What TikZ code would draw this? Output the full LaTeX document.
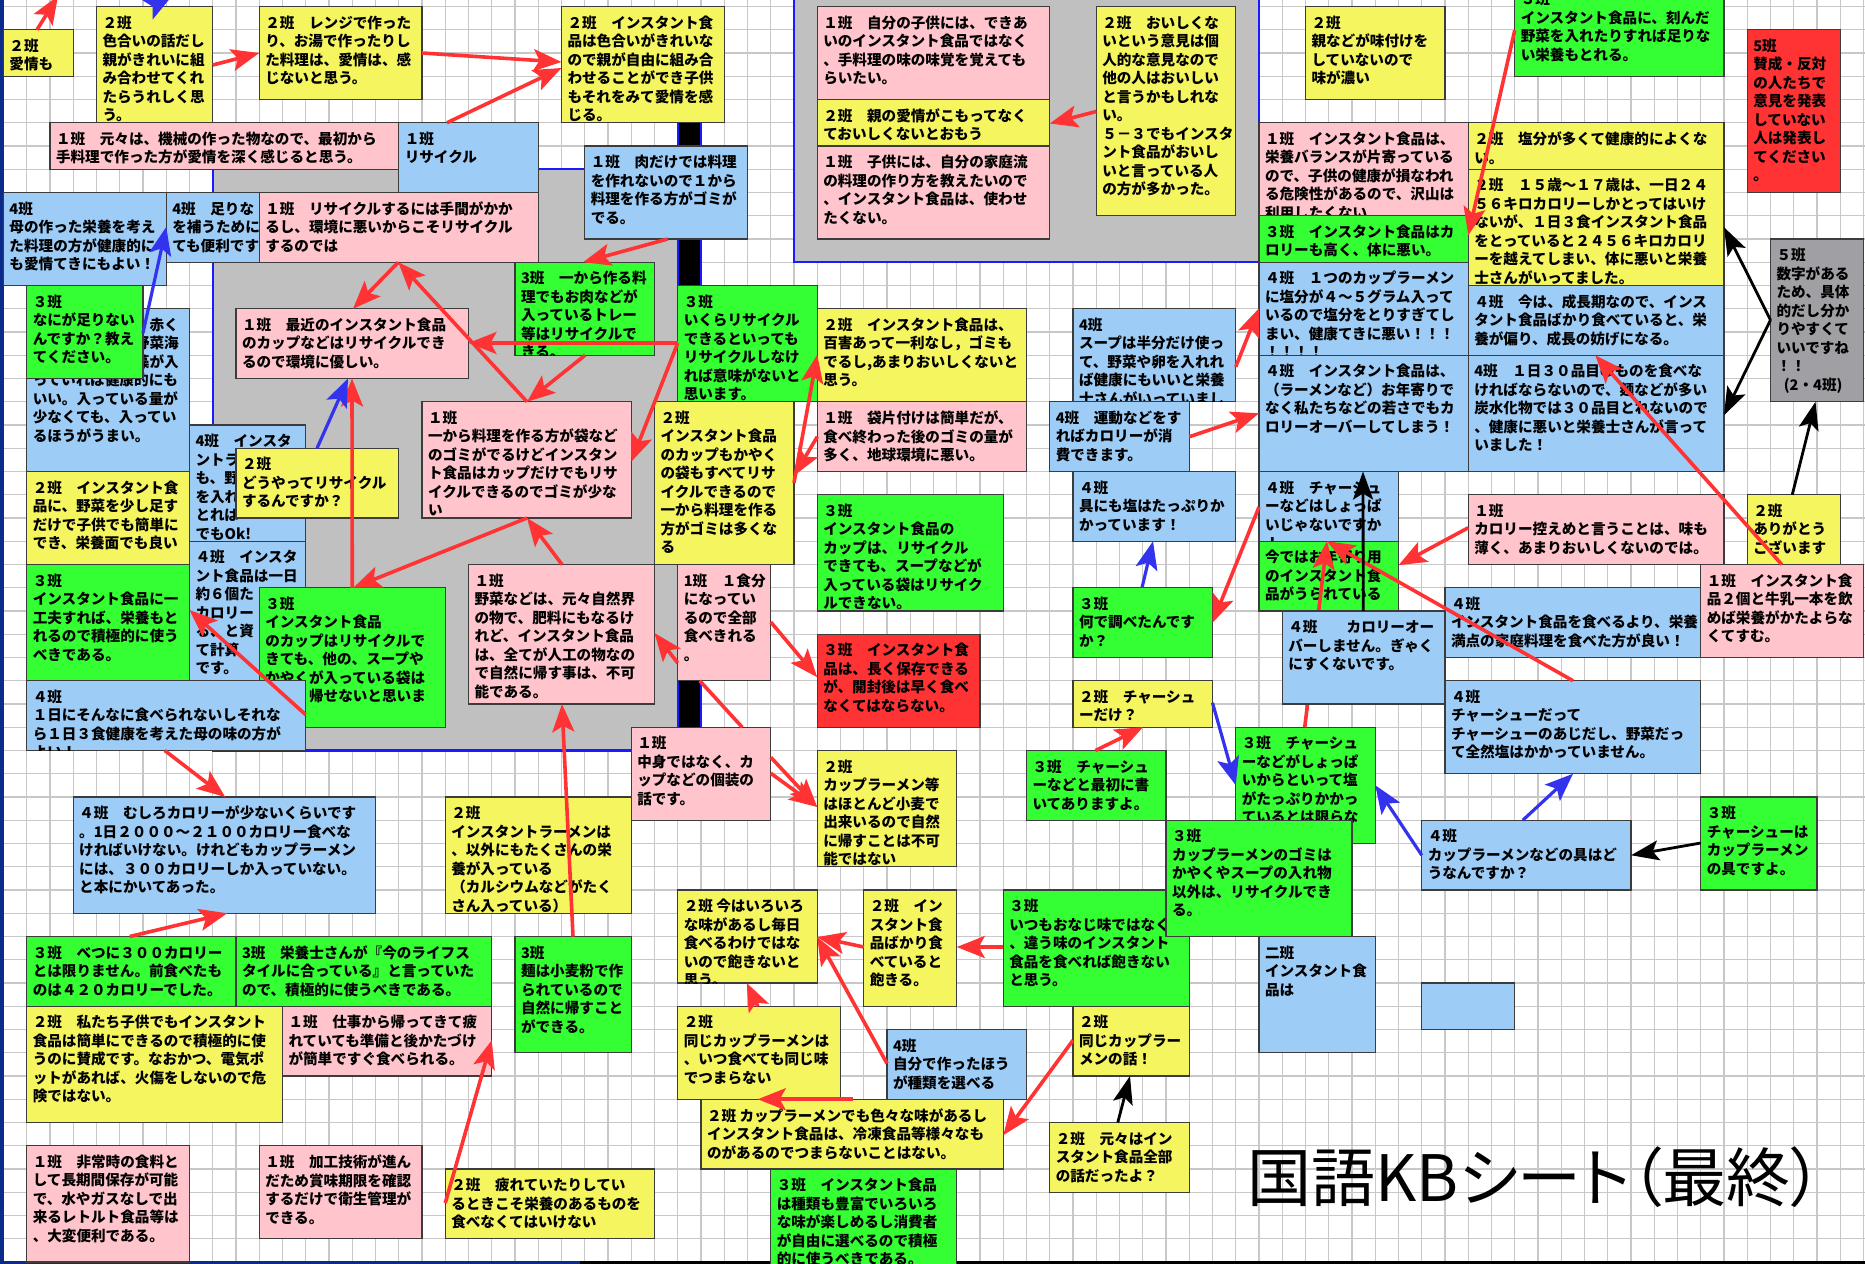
\documentclass[tikz,border=0pt]{standalone}
\usepackage{fontspec}
\newfontfamily\jp{Noto Sans CJK JP}
\newfontfamily\jptitle{Noto Sans CJK JP}[RawFeature=+palt]
\usetikzlibrary{arrows.meta}
\definecolor{kbY}{HTML}{F5F560}
\definecolor{kbP}{HTML}{FFC4CC}
\definecolor{kbB}{HTML}{9DCDF7}
\definecolor{kbG}{HTML}{33FF33}
\definecolor{kbR}{HTML}{FF3333}
\definecolor{kbK}{HTML}{A0A0A4}
\definecolor{kbedge}{HTML}{3C3C3C}
\definecolor{regiongray}{HTML}{C0C0C0}
\definecolor{regionblue}{HTML}{1A1AFF}
\definecolor{arrred}{HTML}{FF3333}
\definecolor{arrblue}{HTML}{3333EE}
\definecolor{gridgray}{HTML}{C8C8C8}
\definecolor{navyedge}{HTML}{0B2A8A}
\newcommand\kbfont{\jp\bfseries\fontsize{7.3}{9.25}\selectfont}
\newcommand\pc[1]{\hbox to #1em{}}
\tikzset{
  kbox/.style={draw=kbedge, line width=0.7pt, anchor=north west, inner sep=0pt, outer sep=0pt, rectangle},
  ktext/.style={anchor=north west, inner sep=0pt, outer sep=0pt, align=left, font=\kbfont, text=black},
  ra/.style={draw=arrred, line width=1.8pt, -{Stealth[length=14pt,width=11pt,inset=3pt]}},
  rl/.style={draw=arrred, line width=1.8pt},
  ba/.style={draw=arrblue, line width=1.6pt, -{Stealth[length=14pt,width=11pt,inset=3pt]}},
  ka/.style={draw=black, line width=1.4pt, -{Stealth[length=14pt,width=10pt,inset=3pt]}},
  gridline/.style={draw=gridgray, line width=0.6pt}
}
% name, colour, grid i, grid j, grid width, grid height, text
\newcommand\kb[7]{%
  \node[kbox, fill=#2, minimum width={23.25*#5*0.5pt}, minimum height={23.25*#6*0.5pt}] (#1) at ({3.5+23.25*#3},{6.5+23.25*#4}) {};
  \begin{scope}
    \clip (#1.south west) rectangle (#1.north east);
    \node[ktext] at ([shift={(6,9)}]#1.north west) {#7};
  \end{scope}}
\begin{document}
\begin{tikzpicture}[x=0.5pt,y=-0.5pt]
\useasboundingbox (0,0) rectangle (1865,1264);
\fill[white] (0,0) rectangle (1865,1264);
\foreach \k in {0,...,80} \draw[gridline] ({3.5+23.25*\k},0) -- ({3.5+23.25*\k},1264);
\foreach \k in {0,...,54} \draw[gridline] (0,{6.5+23.25*\k}) -- (1865,{6.5+23.25*\k});
% grouped regions
\fill[regiongray] (212.75,169.25) rectangle (677.75,750.5);
\draw[regionblue, line width=1.2pt] (212.75,169.25) rectangle (677.75,750.5);
\fill[black] (677.75,122.75) rectangle (701,727.25);
\draw[regionblue, line width=1.2pt] (677.75,122.75) -- (677.75,727.25) (701,122.75) -- (701,727.25);
\fill[regiongray] (794,-5) rectangle (1259,262.25);
\draw[regionblue, line width=1.2pt] (794,-5) -- (794,262.25) -- (1259,262.25) -- (1259,-5);
% frame strips
\fill[navyedge] (0,0) rectangle (4,1264);
\fill[navyedge] (0,1261) rectangle (580,1264);
\fill[black] (580,1261) rectangle (1865,1264);

% ---------- top left ----------
\kb{b1}{kbY}{0}{1}{3}{2}{２班\\愛情も}
\kb{b2}{kbY}{4}{0}{5}{5}{２班\\色合いの話だし\\親がきれいに組\\み合わせてくれ\\たらうれしく思\\う。}
\kb{b3}{kbY}{11}{0}{7}{4}{２班　レンジで作った\\り、お湯で作ったりし\\た料理は、愛情は、感\\じないと思う。}
\kb{b4}{kbY}{24}{0}{7}{5}{２班　インスタント食\\品は色合いがきれいな\\ので親が自由に組み合\\わせることができ子供\\もそれをみて愛情を感\\じる。}
\kb{b5}{kbP}{2}{5}{15}{2}{１班　元々は、機械の作った物なので、最初から\\手料理で作った方が愛情を深く感じると思う。}
\kb{b6}{kbB}{17}{5}{6}{3}{１班\\リサイクル}
\kb{b13}{kbB}{25}{6}{7}{4}{１班　肉だけでは料理\\を作れないので１から\\料理を作る方がゴミが\\でる。}
\kb{b7}{kbB}{0}{8}{7}{4}{4班\\母の作った栄養を考え\\た料理の方が健康的に\\も愛情てきにもよい！}
\kb{b8}{kbB}{7}{8}{4}{3}{4班　足りな\\を補うために\\ても便利です}
\kb{b9}{kbP}{11}{8}{12}{3}{１班　リサイクルするには手間がかか\\るし、環境に悪いからこそリサイクル\\するのでは}
\kb{b14}{kbG}{22}{11}{6}{4}{3班　一から作る料\\理でもお肉などが\\入っているトレー\\等はリサイクルで\\きる。}
\kb{b11}{kbB}{1}{13}{7}{7}{\pc{8}赤く\\\pc{7}野菜海\\\pc{7}藻が入\\っていれば健康的にも\\いい。入っている量が\\少なくても、入ってい\\るほうがうまい。}
\kb{b10}{kbG}{1}{12}{5}{4}{３班\\なにが足りない\\んですか？教え\\てください。}
\kb{b12}{kbP}{10}{13}{10}{3}{１班　最近のインスタント食品\\のカップなどはリサイクルでき\\るので環境に優しい。}
\kb{b15}{kbG}{29}{12}{6}{5}{３班\\いくらリサイクル\\できるといっても\\リサイクルしなけ\\れば意味がないと\\思います。}
\kb{p1}{kbP}{18}{17}{9}{5}{１班\\一から料理を作る方が袋など\\のゴミがでるけどインスタン\\ト食品はカップだけでもリサ\\イクルできるのでゴミが少な\\い}
\kb{b79}{kbB}{8}{18}{5}{5}{4班　インスタ\\ントラ\\も、野\\を入れ\\とれば\\でもOk!}
\kb{b80}{kbY}{10}{19}{7}{3}{２班\\どうやってリサイクル\\するんですか？}
\kb{b77}{kbY}{1}{20}{7}{4}{２班　インスタント食\\品に、野菜を少し足す\\だけで子供でも簡単に\\でき、栄養面でも良い}
\kb{b81}{kbB}{8}{23}{5}{6}{４班　インスタ\\ント食品は一日\\約６個た\\カロリー\\る、と資\\て計算\\です。}
\kb{b78}{kbG}{1}{24}{7}{5}{３班\\インスタント食品に一\\工夫すれば、栄養もと\\れるので積極的に使う\\べきである。}
\kb{g}{kbG}{11}{25}{8}{6}{３班\\インスタント食品\\のカップはリサイクルで\\きても、他の、スープや\\かやくが入っている袋は\\\pc{3}帰せないと思いま}
\kb{b71}{kbB}{1}{29}{12}{3}{４班\\１日にそんなに食べられないしそれな\\ら１日３食健康を考えた母の味の方が\\よい！}
\kb{y2}{kbY}{28}{17}{6}{7}{２班\\インスタント食品\\のカップもかやく\\の袋もすべてリサ\\イクルできるので\\一から料理を作る\\方がゴミは多くな\\る}
\kb{p2}{kbP}{20}{24}{8}{6}{１班\\野菜などは、元々自然界\\の物で、肥料にもなるけ\\れど、インスタント食品\\は、全てが人工の物なの\\で自然に帰す事は、不可\\能である。}
\kb{p3}{kbP}{29}{24}{4}{5}{1班　１食分\\になってい\\るので全部\\食べきれる\\。}
\kb{p4}{kbP}{27}{31}{6}{4}{１班\\中身ではなく、カ\\ップなどの個装の\\話です。}

% ---------- top right ----------
\kb{b16}{kbP}{35}{0}{10}{4}{１班　自分の子供には、できあ\\いのインスタント食品ではなく\\、手料理の味の味覚を覚えても\\らいたい。}
\kb{b17}{kbY}{35}{4}{10}{2}{２班　親の愛情がこもってなく\\ておいしくないとおもう}
\kb{b18}{kbP}{35}{6}{10}{4}{１班　子供には、自分の家庭流\\の料理の作り方を教えたいので\\、インスタント食品は、使わせ\\たくない。}
\kb{b19}{kbY}{47}{0}{6}{9}{２班　おいしくな\\いという意見は個\\人的な意見なので\\他の人はおいしい\\と言うかもしれな\\い。\\５－３でもインスタ\\ント食品がおいし\\いと言っている人\\の方が多かった。}
\kb{b20}{kbY}{56}{0}{6}{4}{２班\\親などが味付けを\\していないので\\味が濃い}
\kb{b25}{kbG}{65}{-1}{9}{4}{３班\\インスタント食品に、刻んだ\\野菜を入れたりすれば足りな\\い栄養もとれる。}
\kb{b26}{kbR}{75}{1}{4}{7}{5班\\賛成・反対\\の人たちで\\意見を発表\\していない\\人は発表し\\てください\\。}
\kb{b21}{kbP}{54}{5}{9}{4}{１班　インスタント食品は、\\栄養バランスが片寄っている\\ので、子供の健康が損なわれ\\る危険性があるので、沢山は\\利用したくない}
\kb{b22}{kbG}{54}{9}{9}{2}{３班　インスタント食品はカ\\ロリーも高く、体に悪い。}
\kb{b23}{kbB}{54}{11}{9}{4}{４班　１つのカップラーメン\\に塩分が４～５グラム入って\\いるので塩分をとりすぎてし\\まい、健康てきに悪い！！！\\！！！！}
\kb{b24}{kbB}{54}{15}{9}{5}{４班　インスタント食品は、\\（ラーメンなど）お年寄りで\\なく私たちなどの若さでもカ\\ロリーオーバーしてしまう！}
\kb{b27}{kbY}{63}{5}{11}{2}{２班　塩分が多くて健康的によくな\\い。}
\kb{b28}{kbY}{63}{7}{11}{5}{２班　１５歳～１７歳は、一日２４\\５６キロカロリーしかとってはいけ\\ないが、１日３食インスタント食品\\をとっていると２４５６キロカロリ\\ーを越えてしまい、体に悪いと栄養\\士さんがいってました。}
\kb{b29}{kbB}{63}{12}{11}{3}{４班　今は、成長期なので、インス\\タント食品ばかり食べていると、栄\\養が偏り、成長の妨げになる。}
\kb{b30}{kbB}{63}{15}{11}{5}{4班　１日３０品目のものを食べな\\ければならないので、麺などが多い\\炭水化物では３０品目とれないので\\、健康に悪いと栄養士さんが言って\\いました！}
\kb{b31}{kbK}{76}{10}{4}{7}{５班\\数字がある\\ため、具体\\的だし分か\\りやすくて\\いいですね\\！！\\\pc{0.5}(2・4班)}

% ---------- middle ----------
\kb{b32}{kbY}{35}{13}{9}{4}{２班　インスタント食品は、\\百害あって一利なし，ゴミも\\でるし,あまりおいしくないと\\思う。}
\kb{b33}{kbP}{35}{17}{9}{3}{１班　袋片付けは簡単だが、\\食べ終わった後のゴミの量が\\多く、地球環境に悪い。}
\kb{b34}{kbB}{46}{13}{7}{4}{4班\\スープは半分だけ使っ\\て、野菜や卵を入れれ\\ば健康にもいいと栄養\\士さんがいっていまし}
\kb{b35}{kbB}{45}{17}{6}{3}{4班　運動などをす\\ればカロリーが消\\費できます。}
\kb{b36}{kbB}{46}{20}{7}{3}{４班\\具にも塩はたっぷりか\\かっています！}
\kb{b37}{kbG}{46}{25}{6}{3}{３班\\何で調べたんです\\か？}
\kb{b38}{kbB}{54}{20}{6}{3}{４班　チャーシュ\\ーなどはしょっぱ\\いじゃないですか\\！}
\kb{b39}{kbG}{54}{23}{6}{3}{今ではお年寄り用\\のインスタント食\\品がうられている\\。}
\kb{b44}{kbG}{53}{31}{6}{5}{３班　チャーシュ\\ーなどがしょっぱ\\いからといって塩\\がたっぷりかかっ\\ているとは限らな\\い}
\draw[ra] ([shift={(69,0)}]b44.north west) -- ([shift={(68,69.75)}]b38.north west);
\kb{b40}{kbB}{55}{26}{7}{4}{４班　　カロリーオー\\バーしません。ぎゃく\\にすくないです。}
\kb{b41}{kbP}{63}{21}{11}{3}{１班\\カロリー控えめと言うことは、味も\\薄く、あまりおいしくないのでは。}
\kb{b42}{kbY}{75}{21}{4}{3}{２班\\ありがとう\\ございます}
\kb{b45}{kbB}{62}{25}{11}{3}{４班\\インスタント食品を食べるより、栄養\\満点の家庭料理を食べた方が良い！}
\kb{b43}{kbP}{73}{24}{7}{4}{１班　インスタント食\\品２個と牛乳一本を飲\\めば栄養がかたよらな\\くてすむ。}
\kb{b46}{kbB}{62}{29}{11}{4}{４班\\チャーシューだって\\チャーシューのあじだし、野菜だっ\\て全然塩はかかっていません。}
\kb{b60}{kbG}{35}{21}{8}{5}{３班\\インスタント食品の\\カップは、リサイクル\\できても、スープなどが\\入っている袋はリサイク\\ルできない。}
\kb{b59}{kbR}{35}{27}{7}{4}{３班　インスタント食\\品は、長く保存できる\\が、開封後は早く食べ\\なくてはならない。}
\kb{b50}{kbY}{46}{29}{6}{2}{２班　チャーシュ\\ーだけ？}
\kb{b51}{kbG}{44}{32}{6}{3}{３班　チャーシュ\\ーなどと最初に書\\いてありますよ。}
\kb{b54}{kbG}{43}{38}{8}{5}{３班\\いつもおなじ味ではなく\\、違う味のインスタント\\食品を食べれば飽きない\\と思う。}
\kb{b52}{kbG}{50}{35}{8}{5}{３班\\カップラーメンのゴミは\\かやくやスープの入れ物\\以外は、リサイクルでき\\る。}
\kb{b47}{kbB}{61}{35}{9}{3}{４班\\カップラーメンなどの具はど\\うなんですか？}
\kb{b48}{kbG}{73}{34}{5}{4}{３班\\チャーシューは\\カップラーメン\\の具ですよ。}
\kb{b49}{kbB}{61}{42}{4}{2}{}
\kb{b61}{kbY}{35}{32}{6}{5}{２班\\カップラーメン等\\はほとんど小麦で\\出来いるので自然\\に帰すことは不可\\能ではない}
\kb{b53}{kbB}{54}{40}{5}{5}{二班\\インスタント食\\品は}
\kb{b55}{kbY}{46}{43}{5}{3}{２班\\同じカップラー\\メンの話！}
\kb{b56}{kbY}{45}{48}{6}{3}{２班　元々はイン\\スタント食品全部\\の話だったよ？}

% ---------- bottom ----------
\kb{b70}{kbB}{3}{34}{13}{5}{４班　むしろカロリーが少ないくらいです\\。1日２０００～２１００カロリー食べな\\ければいけない。けれどもカップラーメン\\には、３００カロリーしか入っていない。\\と本にかいてあった。}
\kb{b57}{kbY}{19}{34}{8}{5}{２班\\インスタントラーメンは\\、以外にもたくさんの栄\\養が入っている\\（カルシウムなどがたく\\さん入っている）}
\kb{b72}{kbG}{1}{40}{9}{3}{３班　べつに３００カロリー\\とは限りません。前食べたも\\のは４２０カロリーでした。}
\kb{b73}{kbG}{10}{40}{11}{3}{3班　栄養士さんが『今のライフス\\タイルに合っている』と言っていた\\ので、積極的に使うべきである。}
\kb{b58}{kbG}{22}{40}{5}{5}{3班\\麺は小麦粉で作\\られているので\\自然に帰すこと\\ができる。}
\kb{b74}{kbY}{1}{43}{11}{5}{２班　私たち子供でもインスタント\\食品は簡単にできるので積極的に使\\うのに賛成です。なおかつ、電気ポ\\ットがあれば、火傷をしないので危\\険ではない。}
\kb{b69}{kbP}{12}{43}{9}{3}{１班　仕事から帰ってきて疲\\れていても準備と後かたづけ\\が簡単ですぐ食べられる。}
\kb{b75}{kbP}{1}{49}{7}{5}{１班　非常時の食料と\\して長期間保存が可能\\で、水やガスなしで出\\来るレトルト食品等は\\、大変便利である。}
\kb{b76}{kbP}{11}{49}{7}{4}{１班　加工技術が進ん\\だため賞味期限を確認\\するだけで衛生管理が\\できる。}
\kb{b68}{kbY}{19}{50}{9}{3}{２班　疲れていたりしてい\\るときこそ栄養のあるものを\\食べなくてはいけない}
\kb{b62}{kbY}{29}{38}{6}{4}{２班 今はいろいろ\\な味があるし毎日\\食べるわけではな\\いので飽きないと\\思う。}
\kb{b63}{kbY}{37}{38}{4}{5}{２班　イン\\スタント食\\品ばかり食\\べていると\\飽きる。}
\kb{b64}{kbY}{29}{43}{7}{4}{２班\\同じカップラーメンは\\、いつ食べても同じ味\\でつまらない}
\kb{b65}{kbB}{38}{44}{6}{3}{4班\\自分で作ったほう\\が種類を選べる}
\kb{b66}{kbY}{30}{47}{13}{3}{２班 カップラーメンでも色々な味があるし\\インスタント食品は、冷凍食品等様々なも\\のがあるのでつまらないことはない。}
\kb{b67}{kbG}{33}{50}{8}{5}{３班　インスタント食品\\は種類も豊富でいろいろ\\な味が楽しめるし消費者\\が自由に選べるので積極\\的に使うべきである。}

% ---------- connectors ----------
\coordinate (t1) at (58,-4);
\coordinate (t2) at (172,-4);
\draw[ra] ([shift={(33.5,0)}]b1.north west) -- (t1);
\draw[ba] ([shift={(56.5,0)}]b2.north west) -- (t2);
\draw[ra] ([shift={(116.25,58.5)}]b2.north west) -- ([shift={(0,46.5)}]b3.north west);
\draw[ra] ([shift={(162.75,46.5)}]b3.north west) -- ([shift={(0,55.5)}]b4.north west);
\draw[ra] ([shift={(48.25,0)}]b6.north west) -- ([shift={(0,61.5)}]b4.north west);
\draw[ra] ([shift={(139,69.75)}]b9.north west) -- ([shift={(117,0)}]b12.north west);
\draw[ra] ([shift={(105,0)}]p1.north west) -- ([shift={(139,69.75)}]b9.north west);
\draw[ra] ([shift={(0,57.5)}]b15.north west) -- ([shift={(232.5,34.25)}]b12.north west);
\draw[ra] ([shift={(70,93)}]b14.north west) -- ([shift={(105,0)}]p1.north west);
\draw[ra] ([shift={(0,57.5)}]b15.north west) -- ([shift={(209.25,60)}]p1.north west);
\draw[ra] ([shift={(83,93)}]b13.north west) -- ([shift={(68,0)}]b14.north west);
\draw[ra] ([shift={(93,0)}]g.north west) -- ([shift={(116,69.75)}]b12.north west);
\draw[ba] ([shift={(81,0)}]b80.north west) -- ([shift={(112,69.75)}]b12.north west);
\draw[ba] ([shift={(116.25,47.5)}]b10.north west) -- ([shift={(162.75,34.5)}]b7.north west);
\draw[ra] ([shift={(105,116.25)}]p1.north west) -- ([shift={(94,0)}]g.north west);
\draw[ra] ([shift={(93.5,0)}]p2.north west) -- ([shift={(105,116.25)}]p1.north west);
\draw[ra] ([shift={(0,98.5)}]p3.north west) -- ([shift={(186,68.5)}]p2.north west);
\draw[ra] ([shift={(93,57.5)}]p3.north west) -- ([shift={(0,43)}]b59.north west);
\draw[rl] ([shift={(111,0)}]p4.north west) -- ([shift={(22,116.25)}]p3.north west);
\draw[ra] ([shift={(139.5,30)}]p4.north west) -- ([shift={(0,56.5)}]b61.north west);
\draw[ra] ([shift={(139.5,46)}]p4.north west) -- ([shift={(0,56.5)}]b61.north west);
\draw[ra] ([shift={(58,0)}]b58.north west) -- ([shift={(93.5,139.5)}]p2.north west);
\draw[ra] ([shift={(279,34)}]b71.north west) -- ([shift={(162.75,45.5)}]b78.north west);
\draw[ra] ([shift={(138,69.75)}]b71.north west) -- ([shift={(152,0)}]b70.north west);
\draw[ra] ([shift={(103,0)}]b72.north west) -- ([shift={(154,116.25)}]b70.north west);
\draw[ra] ([shift={(0,34)}]b68.north west) -- ([shift={(209.25,34)}]b69.north west);
\draw[ra] ([shift={(0,105)}]b19.north west) -- ([shift={(232.5,24)}]b17.north west);
\draw[ra] ([shift={(139.5,81)}]y2.north west) -- ([shift={(0,46)}]b32.north west);
\draw[ra] ([shift={(0,35)}]b33.north west) -- ([shift={(139.5,74)}]y2.north west);
\draw[ra] ([shift={(162.75,58)}]b34.north west) -- ([shift={(0,46)}]b23.north west);
\draw[ra] ([shift={(139.5,35)}]b35.north west) -- ([shift={(0,58)}]b24.north west);
\draw[ra] ([shift={(0,35.5)}]b38.north west) -- ([shift={(139.5,35)}]b37.north west);
\draw[ra] ([shift={(0,33)}]b41.north west) -- ([shift={(139.5,24)}]b39.north west);
\draw[ra] ([shift={(128,0)}]b46.north west) -- ([shift={(68,69.75)}]b38.north west);
\draw[ra] ([shift={(0,47)}]b25.north west) -- ([shift={(0,66)}]b28.north west);
\draw[ra] ([shift={(81,0)}]b43.north west) -- ([shift={(127,69.75)}]b29.north west);
\draw[ra] ([shift={(69,0)}]b51.north west) -- ([shift={(70,46.5)}]b50.north west);
\draw[ra] ([shift={(0,57)}]b54.north west) -- ([shift={(93,57)}]b63.north west);
\draw[ra] ([shift={(0,34)}]b55.north west) -- ([shift={(302.25,36)}]b66.north west);
\draw[ra] ([shift={(0,57)}]b63.north west) -- ([shift={(139.5,47)}]b62.north west);
\draw[ra] ([shift={(80,0)}]b64.north west) -- ([shift={(69,93)}]b62.north west);
\draw[ra] ([shift={(0,34)}]b65.north west) -- ([shift={(139.5,47)}]b62.north west);
\draw[ra] ([shift={(152,0)}]b66.north west) -- ([shift={(80,93)}]b64.north west);
\draw[ka] ([shift={(0,81)}]b31.north west) -- ([shift={(255.75,58)}]b28.north west);
\draw[ka] ([shift={(0,81)}]b31.north west) -- ([shift={(255.75,60)}]b30.north west);
\draw[ka] ([shift={(45,0)}]b42.north west) -- ([shift={(45,162.75)}]b31.north west);
\draw[ka] ([shift={(81,0)}]b40.north west) -- ([shift={(104,116.25)}]b24.north west);
\draw[ka] ([shift={(0,46)}]b48.north west) -- ([shift={(209.25,35)}]b47.north west);
\draw[ka] ([shift={(68,0)}]b56.north west) -- ([shift={(57,69.75)}]b55.north west);
\draw[ba] ([shift={(69,0)}]b37.north west) -- ([shift={(80,69.75)}]b36.north west);
\draw[ba] ([shift={(139.5,22)}]b50.north west) -- ([shift={(0,58)}]b44.north west);
\draw[ba] ([shift={(0,35)}]b47.north west) -- ([shift={(139.5,58)}]b44.north west);
\draw[ba] ([shift={(101,0)}]b47.north west) -- ([shift={(128,93)}]b46.north west);

% ---------- title ----------
\node[anchor=base west, inner sep=0pt, font=\jptitle\fontsize{32}{32}\selectfont] (title) at (1247,1201) {国語KBシート（最終）};
\end{tikzpicture}
\end{document}
